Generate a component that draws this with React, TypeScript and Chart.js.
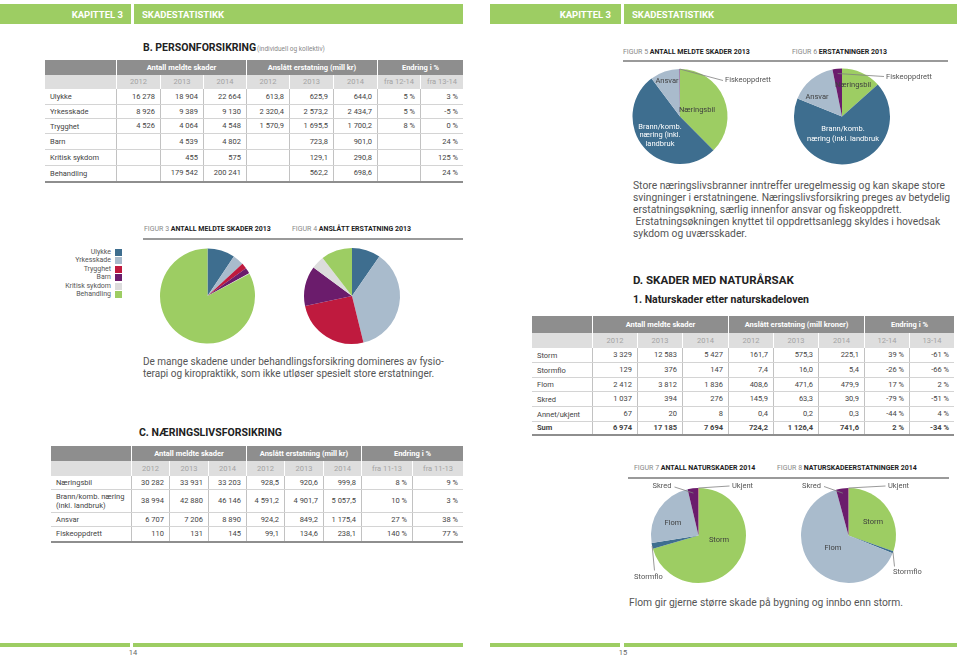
import React, { useEffect, useRef } from 'react';
import Chart from 'chart.js/auto';

// ---------- DATA ----------
const personCategories = ['Ulykke', 'Yrkesskade', 'Trygghet', 'Barn', 'Kritisk sykdom', 'Behandling'];
const personCount2012 = [16278, 8926, 4526, null, null, null];
const personCount2013 = [18904, 9389, 4064, 4539, 455, 179542];
const personCount2014 = [22664, 9130, 4548, 4802, 575, 200241];
const personComp2012 = [613.8, 2320.4, 1570.9, null, null, null];
const personComp2013 = [625.9, 2573.2, 1695.5, 723.8, 129.1, 562.2];
const personComp2014 = [644.0, 2434.7, 1700.2, 901.0, 290.8, 698.6];
const personChange1214 = [5, 5, 8, null, null, null];
const personChange1314 = [3, -5, 0, 24, 125, 24];

const businessCategories = ['Næringsbil', 'Brann/komb. næring\n(inkl. landbruk)', 'Ansvar', 'Fiskeoppdrett'];
const businessCount2012 = [30282, 38994, 6707, 110];
const businessCount2013 = [33931, 42880, 7206, 131];
const businessCount2014 = [33203, 46146, 8890, 145];
const businessComp2012 = [928.5, 4591.2, 924.2, 99.1];
const businessComp2013 = [920.6, 4901.7, 849.2, 134.6];
const businessComp2014 = [999.8, 5057.5, 1175.4, 238.1];
const businessChangeA = [8, 10, 27, 140];
const businessChangeB = [9, 3, 38, 77];

const natureCategories = ['Storm', 'Stormflo', 'Flom', 'Skred', 'Annet/ukjent'];
const natureShortLabels = ['Storm', 'Stormflo', 'Flom', 'Skred', 'Ukjent'];
const natureCount2012 = [3329, 129, 2412, 1037, 67];
const natureCount2013 = [12583, 376, 3812, 394, 20];
const natureCount2014 = [5427, 147, 1836, 276, 8];
const natureComp2012 = [161.7, 7.4, 408.6, 145.9, 0.4];
const natureComp2013 = [575.3, 16.0, 471.6, 63.3, 0.2];
const natureComp2014 = [225.1, 5.4, 479.9, 30.9, 0.3];
const natureChange1214 = [39, -26, 17, -79, -44];
const natureChange1314 = [-61, -66, 2, -51, 4];
const natureSumLabel = 'Sum';
const natureSumCount = [6974, 17185, 7694];
const natureSumComp = [724.2, 1126.4, 741.6];
const natureSumChange = [2, -34];

const yearsA = ['2012', '2013', '2014', '2012', '2013', '2014', 'fra 12-14', 'fra 13-14'];
const yearsB = ['2012', '2013', '2014', '2012', '2013', '2014', 'fra 11-13', 'fra 11-13'];
const yearsC = ['2012', '2013', '2014', '2012', '2013', '2014', '12-14', '13-14'];

// ---------- STYLE ----------
const FONT = 'Roboto, "Noto Sans", sans-serif';
const GREEN = '#9dcd63';
const BLUE = '#3e6e8f';
const LIGHTBLUE = '#a9bbcc';
const CRIMSON = '#bf1a3e';
const PURPLE = '#6b1c6c';
const LIGHTGRAY = '#dcdcdc';
const personColors = [BLUE, LIGHTBLUE, CRIMSON, PURPLE, LIGHTGRAY, GREEN];
const businessColors = [GREEN, BLUE, LIGHTBLUE, PURPLE];
const natureColors = [GREEN, BLUE, LIGHTBLUE, PURPLE, CRIMSON];

// ---------- FORMAT ----------
const group = (s: string) => s.replace(/\B(?=(\d{3})+(?!\d))/g, ' ');
const fmtInt = (v: number | null) => (v == null ? '' : group(String(v)));
const fmtDec = (v: number | null) => {
  if (v == null) return '';
  const [i, d] = v.toFixed(1).split('.');
  return group(i) + ',' + d;
};
const fmtPct = (v: number | null) => (v == null ? '' : `${v} %`);

// ---------- TEXT ----------
type TP = { x: number; y: number; s: number; w?: number; c?: string; a?: 'left' | 'right' | 'center'; children: React.ReactNode; ls?: number };
function T({ x, y, s, w = 400, c = '#555', a = 'left', children, ls }: TP) {
  const lh = Math.round(s * 1.3);
  const style: React.CSSProperties = {
    position: 'absolute', top: y - lh / 2, fontSize: s, lineHeight: lh + 'px', fontWeight: w, color: c,
    whiteSpace: 'pre', fontFamily: FONT, letterSpacing: ls,
  };
  if (a === 'left') style.left = x;
  else if (a === 'right') { style.left = x - 600; style.width = 600; style.textAlign = 'right'; }
  else { style.left = x - 300; style.width = 600; style.textAlign = 'center'; }
  return <div style={style}>{children}</div>;
}

function Box({ x, y, w, h, c }: { x: number; y: number; w: number; h: number; c: string }) {
  return <div style={{ position: 'absolute', left: x, top: y, width: w, height: h, background: c }} />;
}

// ---------- TABLE ----------
type Row = { label: string[]; cells: string[]; bold?: boolean };
type TableProps = { x: number; y: number; colW: number[]; headH: number; yearH: number; rowH: number[]; groups: { label: string; span: number }[]; years: string[]; rows: Row[]; fs?: number };
function DataTable({ x, y, colW, headH, yearH, rowH, groups, years, rows, fs = 7.5 }: TableProps) {
  const lefts: number[] = [];
  colW.forEach((w, i) => lefts.push(i === 0 ? 0 : lefts[i - 1] + colW[i - 1]));
  const total = colW.reduce((a, b) => a + b, 0);
  const els: React.ReactNode[] = [];
  els.push(<div key="hbg" style={{ position: 'absolute', left: 0, top: 0, width: total, height: headH, background: '#8e8e8e' }} />);
  let ci = 0;
  groups.forEach((g, gi) => {
    const l = lefts[ci];
    const w = colW.slice(ci, ci + g.span).reduce((a, b) => a + b, 0);
    els.push(
      <div key={'g' + gi} style={{ position: 'absolute', left: l, top: 0, width: w, height: headH, boxSizing: 'border-box', borderLeft: gi > 0 ? '1.5px solid #fff' : undefined, color: '#fff', fontWeight: 700, fontSize: fs, lineHeight: headH + 'px', textAlign: 'center', whiteSpace: 'pre' }}>{g.label}</div>
    );
    ci += g.span;
  });
  els.push(<div key="ybg" style={{ position: 'absolute', left: 0, top: headH, width: total, height: yearH, background: '#dedede' }} />);
  years.forEach((yv, i) => {
    els.push(
      <div key={'y' + i} style={{ position: 'absolute', left: lefts[i + 1], top: headH, width: colW[i + 1], height: yearH, boxSizing: 'border-box', borderLeft: '1px solid #fff', color: '#a3a3a3', fontSize: fs, lineHeight: yearH + 'px', textAlign: 'center', whiteSpace: 'pre' }}>{yv}</div>
    );
  });
  let ry = headH + yearH;
  rows.forEach((r, ri) => {
    const h = rowH[ri];
    const last = ri === rows.length - 1;
    const bw = last ? 2.5 : 1;
    els.push(<div key={'rb' + ri} style={{ position: 'absolute', left: 0, top: ry + h - bw, width: total, height: bw, background: last ? '#8e8e8e' : '#d4d4d4' }} />);
    const inner = h - bw;
    els.push(
      <div key={'rl' + ri} style={{ position: 'absolute', left: 0, top: ry, width: colW[0], height: inner, display: 'flex', flexDirection: 'column', justifyContent: 'center', paddingLeft: 5, boxSizing: 'border-box', fontSize: fs, lineHeight: (fs + 1.5) + 'px', color: '#444', fontWeight: r.bold ? 700 : 400, whiteSpace: 'pre' }}>
        {r.label.map((l, k) => <div key={k}>{l}</div>)}
      </div>
    );
    r.cells.forEach((cv, k) => {
      els.push(
        <div key={'c' + ri + '_' + k} style={{ position: 'absolute', left: lefts[k + 1], top: ry, width: colW[k + 1], height: inner, boxSizing: 'border-box', borderLeft: '1px solid #c2c2c2', paddingRight: 5, textAlign: 'right', fontSize: fs, lineHeight: inner + 'px', color: '#444', fontWeight: r.bold ? 700 : 400, whiteSpace: 'pre' }}>{cv}</div>
      );
    });
    ry += h;
  });
  return <div style={{ position: 'absolute', left: x, top: y, width: total, height: ry, fontFamily: FONT }}>{els}</div>;
}

// ---------- PIE ----------
type Ann = { i: number; lines: string[]; dx: number; dy: number; color: string; align?: CanvasTextAlign; lead?: [number, number]; leadR?: number; lh?: number };
const labelPlugin = (anns: Ann[]) => ({
  id: 'sliceLabels',
  afterDatasetsDraw(chart: any) {
    const ctx = chart.ctx as CanvasRenderingContext2D;
    const arcs = chart.getDatasetMeta(0).data as any[];
    ctx.save();
    ctx.font = `7.5px ${FONT}`;
    ctx.textBaseline = 'middle';
    anns.forEach((a) => {
      const p = arcs[a.i].getProps(['x', 'y', 'startAngle', 'endAngle', 'outerRadius'], true);
      if (a.lead) {
        const mid = (p.startAngle + p.endAngle) / 2;
        const rr = p.outerRadius * (a.leadR ?? 1);
        ctx.strokeStyle = '#808080';
        ctx.lineWidth = 0.8;
        ctx.beginPath();
        ctx.moveTo(p.x + a.lead[0], p.y + a.lead[1]);
        ctx.lineTo(p.x + Math.cos(mid) * rr, p.y + Math.sin(mid) * rr);
        ctx.stroke();
      }
      ctx.fillStyle = a.color;
      ctx.textAlign = a.align ?? 'center';
      a.lines.forEach((ln, k) => ctx.fillText(ln, p.x + a.dx, p.y + a.dy + k * (a.lh ?? 9)));
    });
    ctx.restore();
  },
});

type PieProps = { x: number; y: number; w: number; h: number; cx: number; cy: number; r: number; labels: string[]; values: number[]; colors: string[]; anns?: Ann[] };
function Pie({ x, y, w, h, cx, cy, r, labels, values, colors, anns = [] }: PieProps) {
  const ref = useRef<HTMLCanvasElement>(null);
  useEffect(() => {
    const chart = new Chart(ref.current!, {
      type: 'pie',
      data: { labels, datasets: [{ data: values, backgroundColor: colors, borderWidth: 0 }] },
      options: {
        responsive: false,
        animation: false,
        events: [],
        layout: { padding: { left: cx - r, top: cy - r, right: w - cx - r, bottom: h - cy - r } },
        plugins: { legend: { display: false }, tooltip: { enabled: false } },
      },
      plugins: [labelPlugin(anns)],
    } as any);
    return () => chart.destroy();
  }, []);
  return <canvas ref={ref} width={w} height={h} style={{ position: 'absolute', left: x, top: y, width: w, height: h }} />;
}

const DARK = '#3f3f3f';
const OUT = '#555';

// ---------- APP ----------
export default function App() {
  const personRows: Row[] = personCategories.map((c, i) => ({
    label: [c],
    cells: [fmtInt(personCount2012[i]), fmtInt(personCount2013[i]), fmtInt(personCount2014[i]), fmtDec(personComp2012[i]), fmtDec(personComp2013[i]), fmtDec(personComp2014[i]), fmtPct(personChange1214[i]), fmtPct(personChange1314[i])],
  }));
  const businessRows: Row[] = businessCategories.map((c, i) => ({
    label: c.split('\n'),
    cells: [fmtInt(businessCount2012[i]), fmtInt(businessCount2013[i]), fmtInt(businessCount2014[i]), fmtDec(businessComp2012[i]), fmtDec(businessComp2013[i]), fmtDec(businessComp2014[i]), fmtPct(businessChangeA[i]), fmtPct(businessChangeB[i])],
  }));
  const natureRows: Row[] = natureCategories.map((c, i) => ({
    label: [c],
    cells: [fmtInt(natureCount2012[i]), fmtInt(natureCount2013[i]), fmtInt(natureCount2014[i]), fmtDec(natureComp2012[i]), fmtDec(natureComp2013[i]), fmtDec(natureComp2014[i]), fmtPct(natureChange1214[i]), fmtPct(natureChange1314[i])],
  }));
  natureRows.push({
    label: [natureSumLabel], bold: true,
    cells: [...natureSumCount.map(fmtInt), ...natureSumComp.map(fmtDec), ...natureSumChange.map(fmtPct)],
  });

  const groupsA = [{ label: '', span: 1 }, { label: 'Antall meldte skader', span: 3 }, { label: 'Anslått erstatning (mill kr)', span: 3 }, { label: 'Endring i %', span: 2 }];
  const groupsC = [{ label: '', span: 1 }, { label: 'Antall meldte skader', span: 3 }, { label: 'Anslått erstatning (mill kroner)', span: 3 }, { label: 'Endring i %', span: 2 }];

  return (
    <div style={{ position: 'absolute', left: 0, top: 0, width: 960, height: 660, background: '#fff', overflow: 'hidden', fontFamily: FONT }}>
      {/* header bars */}
      <Box x={0} y={4} w={131} h={20} c={GREEN} />
      <Box x={134} y={4} w={329} h={20} c={GREEN} />
      <Box x={490} y={4} w={131} h={20} c={GREEN} />
      <Box x={624} y={4} w={333} h={20} c={GREEN} />
      <T x={123} y={14.5} s={9.5} w={700} c="#fff" a="right">KAPITTEL 3</T>
      <T x={142} y={14.5} s={9.5} w={700} c="#fff">SKADESTATISTIKK</T>
      <T x={611} y={14.5} s={9.5} w={700} c="#fff" a="right">KAPITTEL 3</T>
      <T x={632} y={14.5} s={9.5} w={700} c="#fff">SKADESTATISTIKK</T>

      {/* footer bars */}
      <Box x={0} y={643} w={130} h={4} c={GREEN} />
      <Box x={133} y={643} w={330} h={4} c={GREEN} />
      <Box x={490} y={643} w={130} h={4} c={GREEN} />
      <Box x={624} y={643} w={333} h={4} c={GREEN} />
      <T x={133} y={653} s={7.5} c="#666" a="center">14</T>
      <T x={623} y={653} s={7.5} c="#666" a="center">15</T>

      {/* Section B */}
      <T x={143} y={48} s={10.5} w={700} c="#222">B. PERSONFORSIKRING</T>
      <T x={257} y={49} s={6.5} c="#888">(individuell og kollektiv)</T>
      <DataTable x={45} y={60} colW={[71, 44, 43, 43, 43, 44, 44, 43, 43]} headH={15} yearH={14} rowH={[16, 14, 15, 16, 16, 17]} groups={groupsA} years={yearsA} rows={personRows} />

      <T x={144} y={229} s={7} c="#888">FIGUR 3 <b style={{ color: '#222' }}>ANTALL MELDTE SKADER 2013</b></T>
      <T x={292} y={229} s={7} c="#888">FIGUR 4 <b style={{ color: '#222' }}>ANSLÅTT ERSTATNING 2013</b></T>
      <Box x={143} y={238} w={320} h={2} c="#9a9a9a" />

      {personCategories.map((c, i) => (
        <React.Fragment key={c}>
          <T x={111} y={252 + i * 8.5} s={7} c="#555" a="right">{c}</T>
          <Box x={115} y={248.5 + i * 8.5} w={7} h={7} c={personColors[i]} />
        </React.Fragment>
      ))}

      <Pie x={155} y={243} w={106} h={106} cx={52.5} cy={53} r={47.5} labels={personCategories} values={personCount2014} colors={personColors} />
      <Pie x={300} y={243} w={105} h={106} cx={52} cy={53} r={48} labels={personCategories} values={personComp2014} colors={personColors} />

      <T x={143} y={361} s={10} c="#555">De mange skadene under behandlingsforsikring domineres av fysio-</T>
      <T x={143} y={373} s={10} c="#555">terapi og kiropraktikk, som ikke utløser spesielt store erstatninger.</T>

      {/* Section C */}
      <T x={139} y={433} s={10.5} w={700} c="#222">C. NÆRINGSLIVSFORSIKRING</T>
      <DataTable x={51} y={446} colW={[80, 38, 39, 38, 38, 39, 38, 51, 51]} headH={15} yearH={15} rowH={[14, 23, 14, 16]} groups={groupsA} years={yearsB} rows={businessRows} />

      {/* Right page: figures 5 & 6 */}
      <T x={623} y={52} s={7} c="#888">FIGUR 5 <b style={{ color: '#222' }}>ANTALL MELDTE SKADER 2013</b></T>
      <T x={792} y={52} s={7} c="#888">FIGUR 6 <b style={{ color: '#222' }}>ERSTATNINGER 2013</b></T>
      <Box x={623} y={60} w={325} h={2} c="#9a9a9a" />

      <Pie x={625} y={64} w={150} h={106} cx={55} cy={52.5} r={47.5} labels={businessCategories} values={businessCount2014} colors={businessColors}
        anns={[
          { i: 0, lines: [businessCategories[0]], dx: 17, dy: -6.5, color: DARK },
          { i: 1, lines: ['Brann/komb.', 'næring (inkl.', 'landbruk'], dx: -20, dy: 10.5, color: '#fff', lh: 8.5 },
          { i: 2, lines: [businessCategories[2]], dx: -13, dy: -35.5, color: DARK },
          { i: 3, lines: [businessCategories[3]], dx: 45, dy: -36.5, color: OUT, align: 'left', lead: [43, -36], leadR: 1 },
        ]} />
      <Pie x={790} y={64} w={150} h={106} cx={52} cy={52.5} r={48} labels={businessCategories} values={businessComp2014} colors={businessColors}
        anns={[
          { i: 0, lines: [businessCategories[0]], dx: 11, dy: -31.5, color: DARK },
          { i: 1, lines: ['Brann/komb.', 'næring (inkl. landbruk'], dx: 1, dy: 12.5, color: '#fff', lh: 10 },
          { i: 2, lines: [businessCategories[2]], dx: -25, dy: -19.5, color: DARK },
          { i: 3, lines: [businessCategories[3]], dx: 44, dy: -39.5, color: OUT, align: 'left', lead: [42, -40], leadR: 0.9 },
        ]} />

      <T x={633} y={185} s={10.3} c="#555">Store næringslivsbranner inntreffer uregelmessig og kan skape store</T>
      <T x={633} y={197} s={10.3} c="#555">svingninger i erstatningene. Næringslivsforsikring preges av betydelig</T>
      <T x={633} y={209} s={10.3} c="#555">erstatningsøkning, særlig innenfor ansvar og fiskeoppdrett.</T>
      <T x={633} y={221} s={10.3} c="#555"> Erstatningsøkningen knyttet til oppdrettsanlegg skyldes i hovedsak</T>
      <T x={633} y={233} s={10.3} c="#555">sykdom og uværsskader.</T>

      {/* Section D */}
      <T x={633} y={280} s={11.5} w={700} c="#222">D. SKADER MED NATURÅRSAK</T>
      <T x={633} y={300} s={10.5} w={700} c="#222">1. Naturskader etter naturskadeloven</T>
      <DataTable x={532} y={316} colW={[60, 45, 45, 46, 45, 45, 46, 45, 45]} headH={17} yearH={15} rowH={[15, 15, 14, 15, 15, 14]} groups={groupsC} years={yearsC} rows={natureRows} />

      <T x={634} y={468} s={7} c="#888">FIGUR 7 <b style={{ color: '#222' }}>ANTALL NATURSKADER 2014</b></T>
      <T x={777} y={468} s={7} c="#888">FIGUR 8 <b style={{ color: '#222' }}>NATURSKADEERSTATNINGER 2014</b></T>
      <Box x={628} y={477} w={321} h={2} c="#9a9a9a" />

      <Pie x={628} y={479} w={140} h={108} cx={70.5} cy={56.5} r={47.5} labels={natureShortLabels} values={natureCount2014} colors={natureColors}
        anns={[
          { i: 0, lines: [natureShortLabels[0]], dx: 20.5, dy: 4.5, color: DARK },
          { i: 1, lines: [natureShortLabels[1]], dx: -50, dy: 41.5, color: OUT, lead: [-44, 35], leadR: 1 },
          { i: 2, lines: [natureShortLabels[2]], dx: -25.5, dy: -12.5, color: DARK },
          { i: 3, lines: [natureShortLabels[3]], dx: -27, dy: -49, color: OUT, align: 'right', lead: [-24, -48.5], leadR: 0.9 },
          { i: 4, lines: [natureShortLabels[4]], dx: 33.5, dy: -49.5, color: OUT, align: 'left', lead: [31, -49.5], leadR: 1 },
        ]} />
      <Pie x={790} y={479} w={140} h={108} cx={58.5} cy={56.5} r={47.5} labels={natureShortLabels} values={natureComp2014} colors={natureColors}
        anns={[
          { i: 0, lines: [natureShortLabels[0]], dx: 24.5, dy: -13.5, color: DARK },
          { i: 1, lines: [natureShortLabels[1]], dx: 44.5, dy: 36.5, color: OUT, align: 'left', lead: [46, 31], leadR: 1 },
          { i: 2, lines: [natureShortLabels[2]], dx: -15.5, dy: 12.5, color: DARK },
          { i: 3, lines: [natureShortLabels[3]], dx: -27.5, dy: -49.5, color: OUT, align: 'right', lead: [-24.5, -49], leadR: 0.9 },
          { i: 4, lines: [natureShortLabels[4]], dx: 39.5, dy: -49.5, color: OUT, align: 'left', lead: [37, -49.5], leadR: 1 },
        ]} />

      <T x={629} y={602} s={10.3} c="#555">Flom gir gjerne større skade på bygning og innbo enn storm.</T>
    </div>
  );
}
